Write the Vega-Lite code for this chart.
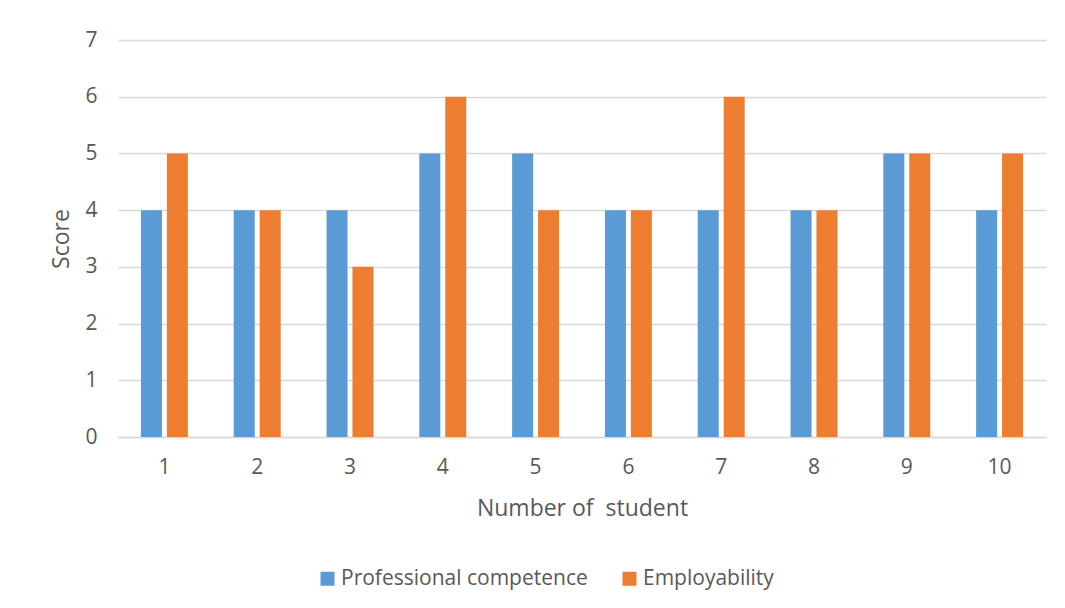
{
  "$schema": "https://vega.github.io/schema/vega-lite/v6.json",
  "autosize": {"type": "none"},
  "width": 928,
  "height": 397,
  "padding": {"left": 118, "top": 40, "right": 19, "bottom": 171},
  "background": "white",
  "data": {
    "values": [
      {"student": "1", "series": "Professional competence", "score": 4},
      {"student": "1", "series": "Employability", "score": 5},
      {"student": "2", "series": "Professional competence", "score": 4},
      {"student": "2", "series": "Employability", "score": 4},
      {"student": "3", "series": "Professional competence", "score": 4},
      {"student": "3", "series": "Employability", "score": 3},
      {"student": "4", "series": "Professional competence", "score": 5},
      {"student": "4", "series": "Employability", "score": 6},
      {"student": "5", "series": "Professional competence", "score": 5},
      {"student": "5", "series": "Employability", "score": 4},
      {"student": "6", "series": "Professional competence", "score": 4},
      {"student": "6", "series": "Employability", "score": 4},
      {"student": "7", "series": "Professional competence", "score": 4},
      {"student": "7", "series": "Employability", "score": 6},
      {"student": "8", "series": "Professional competence", "score": 4},
      {"student": "8", "series": "Employability", "score": 4},
      {"student": "9", "series": "Professional competence", "score": 5},
      {"student": "9", "series": "Employability", "score": 5},
      {"student": "10", "series": "Professional competence", "score": 4},
      {"student": "10", "series": "Employability", "score": 5}
    ]
  },
  "mark": {"type": "bar"},
  "encoding": {
    "x": {
      "field": "student",
      "type": "ordinal",
      "sort": null,
      "scale": {"paddingInner": 0.494, "paddingOuter": 0.247},
      "axis": {
        "title": "Number of\u00a0 student",
        "labelAngle": 0,
        "ticks": false,
        "domainColor": "#d9d9d9",
        "domainWidth": 1.5,
        "labelPadding": 19,
        "titlePadding": 20,
        "labelFont": "Open Sans",
        "titleFont": "Open Sans",
        "labelFontSize": 21,
        "titleFontSize": 23,
        "labelColor": "#595959",
        "titleColor": "#595959",
        "titleFontWeight": "normal"
      }
    },
    "xOffset": {
      "field": "series",
      "type": "nominal",
      "sort": ["Professional competence", "Employability"],
      "scale": {"paddingInner": 0.19}
    },
    "y": {
      "field": "score",
      "type": "quantitative",
      "scale": {"domain": [0, 7], "nice": false},
      "axis": {
        "title": "Score",
        "values": [0, 1, 2, 3, 4, 5, 6, 7],
        "labelOverlap": false,
        "ticks": false,
        "domain": false,
        "gridColor": "#d9d9d9",
        "gridWidth": 1.5,
        "labelPadding": 21,
        "titlePadding": 11,
        "labelFont": "Open Sans",
        "titleFont": "Open Sans",
        "labelFontSize": 21,
        "titleFontSize": 23,
        "labelColor": "#595959",
        "titleColor": "#595959",
        "titleFontWeight": "normal"
      }
    },
    "color": {
      "field": "series",
      "type": "nominal",
      "sort": ["Professional competence", "Employability"],
      "scale": {"domain": ["Professional competence", "Employability"], "range": ["#5B9BD5", "#ED7D31"]},
      "legend": {
        "title": null,
        "orient": "none",
        "direction": "horizontal",
        "legendX": 199,
        "legendY": 528,
        "symbolType": "square",
        "symbolSize": 196,
        "labelOffset": 3,
        "columnPadding": 31,
        "labelLimit": 400,
        "labelFont": "Open Sans",
        "labelFontSize": 21,
        "labelColor": "#595959",
        "symbolStrokeWidth": 0
      }
    }
  },
  "config": {
    "font": "Open Sans",
    "view": {"stroke": null}
  }
}
